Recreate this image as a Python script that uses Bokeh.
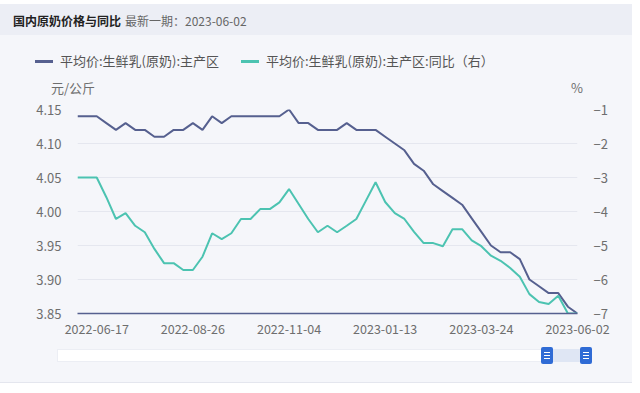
import pandas as pd
from bokeh.plotting import figure
from bokeh.models import (Range1d, LinearAxis, FixedTicker, DatetimeTickFormatter,
                          PrintfTickFormatter, Div)
from bokeh.layouts import column
from bokeh.embed import file_html
from bokeh.resources import INLINE

# ---------------- data ----------------
dates = pd.date_range("2022-06-03", "2023-06-02", freq="7D")
price = [4.14, 4.14, 4.14, 4.13, 4.12, 4.13, 4.12, 4.12, 4.11, 4.11,
         4.12, 4.12, 4.13, 4.12, 4.14, 4.13, 4.14, 4.14, 4.14, 4.14,
         4.14, 4.14, 4.15, 4.13, 4.13, 4.12, 4.12, 4.12, 4.13, 4.12,
         4.12, 4.12, 4.11, 4.10, 4.09, 4.07, 4.06, 4.04, 4.03, 4.02,
         4.01, 3.99, 3.97, 3.95, 3.94, 3.94, 3.93, 3.90, 3.89, 3.88,
         3.88, 3.86, 3.85]
yoy = [-3.0, -3.0, -3.0, -3.58, -4.22, -4.05, -4.42, -4.61, -5.1, -5.52,
       -5.52, -5.72, -5.72, -5.33, -4.64, -4.81, -4.64, -4.22, -4.22, -3.93,
       -3.93, -3.73, -3.34, -3.78, -4.22, -4.61, -4.42, -4.61, -4.42, -4.22,
       -3.68, -3.14, -3.72, -4.05, -4.22, -4.6, -4.93, -4.93, -5.02, -4.52,
       -4.52, -4.85, -5.02, -5.3, -5.45, -5.66, -5.92, -6.43, -6.66, -6.72,
       -6.48, -7.0, -7.0]
x_tick_labels = ["2022-06-17", "2022-08-26", "2022-11-04",
                 "2023-01-13", "2023-03-24", "2023-06-02"]
left_ticks = [3.85, 3.90, 3.95, 4.00, 4.05, 4.10, 4.15]
right_ticks = [-7, -6, -5, -4, -3, -2, -1]
series_names = ["平均价:生鲜乳(原奶):主产区", "平均价:生鲜乳(原奶):主产区:同比（右）"]
title_text = "国内原奶价格与同比"
subtitle_text = "最新一期：2023-06-02"
left_unit = "元/公斤"
right_unit = "%"

# ---------------- style ----------------
FONT = "Noto Sans CJK SC"
BG = "#f5f6fa"
HEAD = "#eceef5"
CARD_LINE = "#e4e6ee"
BLUE = "#56608f"
GREEN = "#4cc3b1"
GRID = "#e5e7ef"
TXT = "#6e6e6e"
CW = 632     # card width

# ---------------- header, legend and axis units (HTML) ----------------
def span(left, top, text, size=13, color="#555555", weight="normal", align=None):
    tr = "transform:translateX(-50%);" if align == "center" else ""
    return (f'<span style="position:absolute;left:{left}px;top:{top}px;{tr}'
            f'font-size:{size}px;line-height:18px;color:{color};font-weight:{weight};'
            f'white-space:nowrap;font-family:\'{FONT}\';">{text}</span>')

def swatch(left, top, color):
    return (f'<div style="position:absolute;left:{left}px;top:{top}px;width:18px;'
            f'height:3px;background:{color};"></div>')

top_html = (
    f'<div style="position:relative;width:{CW}px;height:100px;background:{BG};overflow:hidden;">'
    f'<div style="position:absolute;left:0;top:0;width:{CW}px;height:4px;background:#ffffff;"></div>'
    f'<div style="position:absolute;left:0;top:4px;width:{CW}px;height:31px;background:{HEAD};"></div>'
    + span(13, 12, title_text, 12, "#222222", "bold")
    + span(125, 12, subtitle_text, 12, "#666666")
    + swatch(35, 60, BLUE) + span(60, 52, series_names[0])
    + swatch(241, 60, GREEN) + span(266, 52, series_names[1])
    + span(73, 79, left_unit, 13, TXT, align="center")
    + span(577, 79, right_unit, 13, TXT, align="center")
    + '</div>'
)
top = Div(text=top_html, width=CW, height=100, margin=0)

# ---------------- main chart ----------------
ms = lambda s: pd.Timestamp(s).value // 10**6
p = figure(width=CW, height=242, x_axis_type="datetime",
           x_range=Range1d(dates[0], dates[-1]), y_range=Range1d(3.85, 4.15),
           output_backend="svg", toolbar_location=None,
           min_border_left=77, min_border_right=55, min_border_top=9, min_border_bottom=29,
           background_fill_color=BG, border_fill_color=BG, outline_line_color=None)
p.extra_y_ranges = {"yoy": Range1d(-7, -1)}

p.line(dates, price, line_color=BLUE, line_width=2)
p.line(dates, yoy, line_color=GREEN, line_width=2, y_range_name="yoy")

xa = p.xaxis[0]
xa.ticker = FixedTicker(ticks=[ms(s) for s in x_tick_labels])
fmt = "%Y-%m-%d"
xa.formatter = DatetimeTickFormatter(days=fmt, months=fmt, years=fmt, hours=fmt,
                                     minutes=fmt, seconds=fmt, milliseconds=fmt,
                                     microseconds=fmt, hourmin=fmt, minsec=fmt)
xa.axis_line_color = BLUE
xa.axis_line_width = 1.5
xa.major_tick_line_color = None
xa.minor_tick_line_color = None
xa.major_label_standoff = 4
xa.major_label_text_font = FONT
xa.major_label_text_font_size = "12.5px"
xa.major_label_text_color = TXT

ya = p.yaxis[0]
ya.ticker = FixedTicker(ticks=left_ticks)
ya.formatter = PrintfTickFormatter(format="%.2f")

yr = LinearAxis(y_range_name="yoy", ticker=FixedTicker(ticks=right_ticks))
p.add_layout(yr, "right")

for ax in (ya, yr):
    ax.axis_line_color = None
    ax.major_tick_line_color = None
    ax.minor_tick_line_color = None
    ax.major_label_standoff = 10
    ax.major_label_text_font = FONT
    ax.major_label_text_font_size = "13px"
    ax.major_label_text_color = TXT

p.xgrid.visible = False
p.ygrid.ticker = FixedTicker(ticks=left_ticks[1:])
p.ygrid.grid_line_color = GRID
p.ygrid.grid_line_width = 1

# ---------------- data-zoom slider (HTML decoration) ----------------
def handle(left):
    lines = "".join(
        f'<div style="position:absolute;left:3px;top:{t}px;width:6px;height:1px;background:#ffffff;"></div>'
        for t in (5, 8, 11))
    return (f'<div style="position:absolute;left:{left}px;top:5px;width:12px;height:17px;'
            f'background:#2f6bd5;border-radius:2px;">{lines}</div>')

slider_html = (
    f'<div style="position:relative;width:{CW}px;height:51px;background:{BG};overflow:hidden;">'
    f'<div style="position:absolute;left:0;top:40px;width:{CW}px;height:11px;background:#ffffff;'
    f'border-top:1px solid {CARD_LINE};box-sizing:border-box;"></div>'
    '<div style="position:absolute;left:57px;top:7px;width:533px;height:13px;'
    'background:#ffffff;border:1px solid #eceef4;box-sizing:border-box;"></div>'
    '<div style="position:absolute;left:553px;top:7px;width:27px;height:13px;background:#dfe6f4;"></div>'
    + handle(541) + handle(580)
    + '</div>'
)
bottom = Div(text=slider_html, width=CW, height=51, margin=0)

layout = column(top, p, bottom, spacing=0, styles={"background-color": BG})
open("out.html", "w").write(file_html(layout, INLINE))
